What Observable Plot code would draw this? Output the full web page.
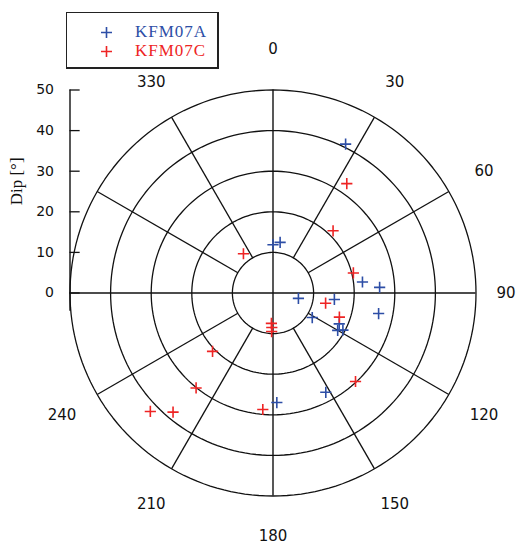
<!DOCTYPE html>
<html>
<head>
<meta charset="utf-8">
<script src="https://cdn.jsdelivr.net/npm/d3@7"></script>
<script src="https://cdn.jsdelivr.net/npm/@observablehq/plot@0.6"></script>
<style>
  html, body { margin: 0; padding: 0; background: #fff; }
  #chart { position: relative; width: 524px; height: 545px; }
  #chart svg.plot { position: absolute; left: 0; top: 0; }
  #legend {
    position: absolute; left: 66px; top: 12px; width: 153px; height: 57px;
    box-sizing: border-box; background: #fff;
    border: 1px solid #222; border-right-width: 2px; border-bottom-width: 2px;
    font-family: "Liberation Serif", "DejaVu Serif", serif; font-size: 17px;
  }
  #legend .row { position: absolute; left: 0; width: 100%; height: 20px; line-height: 20px; }
  #legend .sym { position: absolute; left: 34px; top: 5px; }
  #legend .lab { position: absolute; left: 68px; white-space: nowrap; letter-spacing: 1px; }
</style>
</head>
<body>
<div id="chart"></div>
<script>
// Pole orientations of fractures: azimuth (° clockwise from north) and dip (°)
const kfm07aAzimuth = [26, 8, 0, 102, 83, 87, 96, 101, 122, 115, 120, 118, 152, 178];
const kfm07aDip     = [40.8, 12.6, 11.9, 6.4, 22.2, 26.3, 15.2, 26.5, 11.4, 18.0, 18.4, 19.5, 27.7, 27.0];
const kfm07cAzimuth = [34, 44, 323, 76, 101, 110, 137, 183, 182, 182, 226, 219, 220, 226, 185];
const kfm07cDip     = [32.5, 21.3, 12.1, 20.4, 13.2, 17.4, 29.8, 7.5, 8.5, 9.5, 20.7, 30.1, 38.3, 42.0, 28.8];

const seriesNames  = ["KFM07A", "KFM07C"];
const seriesColors = ["#2d4ea6", "#ee2424"];

const dipTicks      = [0, 10, 20, 30, 40, 50];
const ringDips      = [10, 20, 30, 40, 50];
const spokeAzimuths = [30, 60, 120, 150, 210, 240, 300, 330];
const azimuthLabels = [0, 30, 60, 90, 120, 150, 180, 210, 240, 330];
const maxDip = 50;

// labels sit outside the outer ring; the east label is tucked in a little
const labelDip = (a) => (a === 90 ? 57.4 : 60);

// polar (azimuth, dip) -> cartesian plot units
const rad = (a) => a * Math.PI / 180;
const px = (az, dip) => dip * Math.sin(rad(az));
const py = (az, dip) => dip * Math.cos(rad(az));

const poles = [
  ...kfm07aAzimuth.map((az, i) => ({series: seriesNames[0], az, dip: kfm07aDip[i]})),
  ...kfm07cAzimuth.map((az, i) => ({series: seriesNames[1], az, dip: kfm07cDip[i]}))
];

// sampled ring outlines
const ringPoints = ringDips.flatMap((ring) => d3.range(0, 360, 2).map((az) => ({ring, az})));

const plot = Plot.plot({
  className: "plot",
  width: 524,
  height: 545,
  marginLeft: 69.5,
  marginRight: 48.5,
  marginTop: 89.5,
  marginBottom: 49.5,
  style: {fontFamily: "'DejaVu Sans', sans-serif", fontSize: "14px", color: "#111", background: "transparent"},
  x: {domain: [-maxDip, maxDip], axis: null},
  y: {domain: [-maxDip, maxDip]},
  color: {domain: seriesNames, range: seriesColors},
  marks: [
    // dip rings
    Plot.line(ringPoints, {
      x: (d) => px(d.az, d.ring), y: (d) => py(d.az, d.ring),
      z: "ring", curve: "linear-closed", stroke: "#111", strokeWidth: 1.3
    }),
    // azimuth spokes between the inner and outer ring
    Plot.link(spokeAzimuths, {
      x1: (a) => px(a, ringDips[0]), y1: (a) => py(a, ringDips[0]),
      x2: (a) => px(a, maxDip), y2: (a) => py(a, maxDip),
      stroke: "#111", strokeWidth: 1.3
    }),
    // N-S and E-W lines through the centre
    Plot.ruleY([0], {x1: -maxDip, x2: maxDip, stroke: "#111", strokeWidth: 1.4}),
    Plot.ruleX([0], {y1: -maxDip, y2: maxDip, stroke: "#111", strokeWidth: 1.4}),
    // dip axis on the left
    Plot.ruleX([-maxDip], {y1: -4.5, y2: maxDip, stroke: "#111", strokeWidth: 1.4}),
    Plot.ruleY(dipTicks, {x1: -maxDip, x2: -maxDip + 2.5, stroke: "#111", strokeWidth: 1.3}),
    Plot.axisY({ticks: dipTicks, tickSize: 0, tickPadding: 16, label: null, fontSize: 14}),
    Plot.text(["Dip [°]"], {x: () => -maxDip, y: () => 27.5, dx: -53, rotate: -90, fontSize: 17, fontFamily: "'Liberation Serif', serif"}),
    // azimuth labels
    Plot.text(azimuthLabels, {
      x: (a) => px(a, labelDip(a)), y: (a) => py(a, labelDip(a)),
      text: (a) => String(a), fontSize: 15
    }),
    // fracture poles
    Plot.dot(poles, {
      x: (d) => px(d.az, d.dip), y: (d) => py(d.az, d.dip),
      stroke: "series", symbol: "plus", r: 3.7, strokeWidth: 1.6
    })
  ]
});

const chart = document.getElementById("chart");
chart.appendChild(plot);

// legend box
const legend = document.createElement("div");
legend.id = "legend";
seriesNames.forEach((name, i) => {
  const row = document.createElement("div");
  row.className = "row";
  row.style.top = (9 + i * 19) + "px";
  row.style.color = seriesColors[i];
  row.innerHTML =
    `<svg class="sym" width="11" height="11"><path d="M0,5.5H11M5.5,0V11" stroke="${seriesColors[i]}" stroke-width="1.6"/></svg>` +
    `<span class="lab">${name}</span>`;
  legend.appendChild(row);
});
chart.appendChild(legend);
</script>
</body>
</html>
